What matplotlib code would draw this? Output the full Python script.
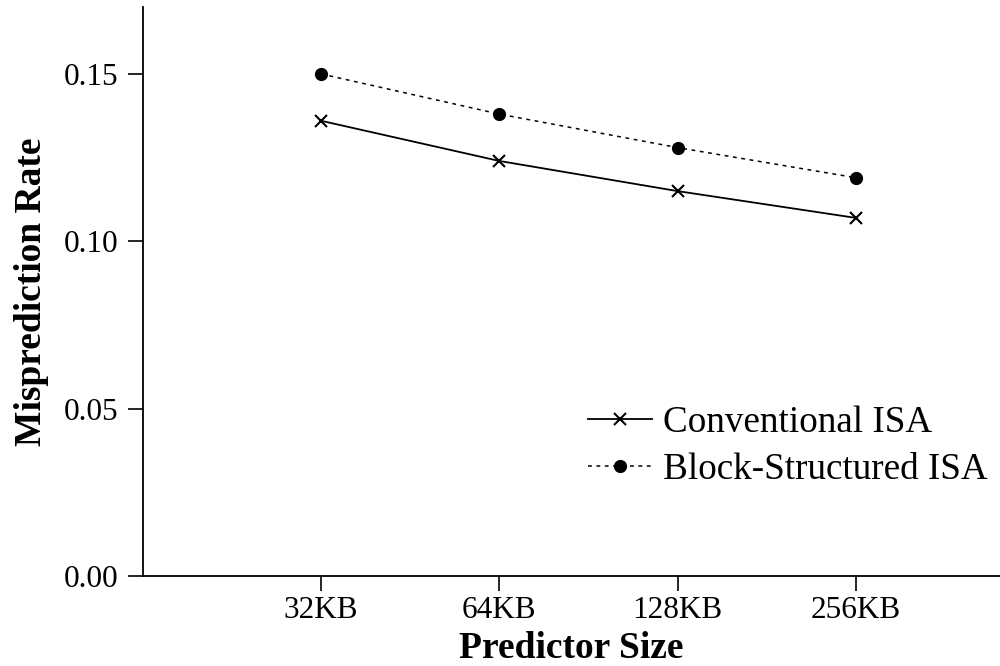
import matplotlib
matplotlib.use("Agg")
import matplotlib.pyplot as plt

sizes = ["32KB", "64KB", "128KB", "256KB"]
conventional = [0.136, 0.124, 0.115, 0.107]
block_structured = [0.150, 0.138, 0.128, 0.119]
yticks = [0.00, 0.05, 0.10, 0.15]

plt.rcParams["font.family"] = ["Liberation Serif", "DejaVu Serif"]

fig = plt.figure(figsize=(10, 6.66), dpi=100)
ax = fig.add_axes([0.143, 0.1351, 0.857, 0.8544])

x = list(range(1, len(sizes) + 1))
ax.plot(x, conventional, color="black", lw=1.3, marker="x", ms=9, mew=1.5,
        label="Conventional ISA")
ax.plot(x, block_structured, color="black", lw=1.1, ls=(0, (2.5, 3)), marker="o",
        ms=8.5, label="Block-Structured ISA")

ax.set_xlim(0, 4.81)
ax.set_ylim(0, 0.17)
ax.set_xticks(x)
ax.set_xticklabels(sizes)
ax.set_yticks(yticks)
ax.set_yticklabels([f"{v:.2f}" for v in yticks])
ax.tick_params(labelsize=22.5, length=10.5, width=1.2, direction="out")
ax.tick_params(axis="y", pad=7)
ax.tick_params(axis="x", pad=4)

for s in ("top", "right"):
    ax.spines[s].set_visible(False)
for s in ("left", "bottom"):
    ax.spines[s].set_linewidth(1.3)

ax.set_xlabel("Predictor Size", fontsize=27, fontweight="bold", labelpad=4)
ax.set_ylabel("Misprediction Rate", fontsize=27, fontweight="bold", labelpad=11)

ax.legend(loc="center left", bbox_to_anchor=(0.519, 0.228), frameon=False,
          fontsize=26.7, handlelength=1.73, handletextpad=0.3, labelspacing=0.36,
          borderpad=0, borderaxespad=0)

fig.savefig("out.png", dpi=100)
